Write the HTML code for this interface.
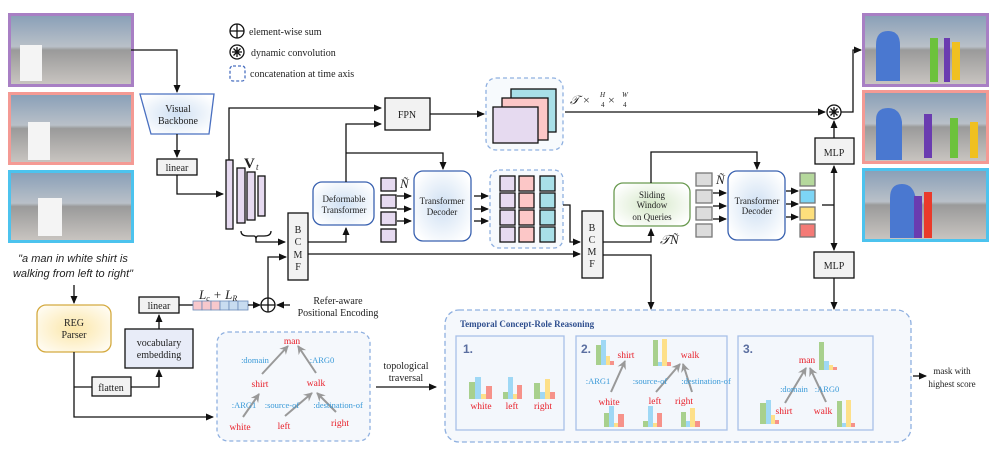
<!DOCTYPE html>
<html><head><meta charset="utf-8"><style>
body{margin:0;background:#fff}
svg{display:block}
text{font-family:"Liberation Serif",serif;fill:#222}
</style></head><body>
<svg width="997" height="455" viewBox="0 0 997 455" xmlns="http://www.w3.org/2000/svg">
<defs>
<marker id="a" markerWidth="8" markerHeight="8" refX="7" refY="4" orient="auto" markerUnits="userSpaceOnUse"><path d="M0,0.5 L8,4 L0,7.5z" fill="#111"/></marker>
<marker id="g" markerWidth="9" markerHeight="9" refX="8" refY="4.5" orient="auto" markerUnits="userSpaceOnUse"><path d="M0,0 L9,4.5 L0,9 L3,4.5z" fill="#999"/></marker>
<radialGradient id="bl" cx="50%" cy="50%" r="60%"><stop offset="0" stop-color="#cfe0f3"/><stop offset="1" stop-color="#fff"/></radialGradient>
<radialGradient id="gr" cx="50%" cy="50%" r="60%"><stop offset="0" stop-color="#d5e8c8"/><stop offset="1" stop-color="#fff"/></radialGradient>
<radialGradient id="ye" cx="50%" cy="50%" r="60%"><stop offset="0" stop-color="#fbe6a8"/><stop offset="1" stop-color="#fffbef"/></radialGradient>
<linearGradient id="ph" x1="0" y1="0" x2="0" y2="1"><stop offset="0" stop-color="#8aa0b8"/><stop offset="0.45" stop-color="#b9c0c8"/><stop offset="0.5" stop-color="#9a9a9a"/><stop offset="1" stop-color="#c8c4c0"/></linearGradient>
</defs>
<g stroke-width="1.3" fill="none" stroke="#111">
<rect x="8" y="13" width="126" height="74" fill="#a87fc4" stroke="none"/><rect x="11" y="16" width="120" height="68" fill="url(#ph)" stroke="none"/>
<rect x="8" y="92" width="126" height="73" fill="#f49a94" stroke="none"/><rect x="11" y="95" width="120" height="67" fill="url(#ph)" stroke="none"/>
<rect x="8" y="170" width="126" height="73" fill="#4cc3ee" stroke="none"/><rect x="11" y="173" width="120" height="67" fill="url(#ph)" stroke="none"/>
<rect x="20" y="45" width="22" height="36" fill="#f4f4f4" stroke="none"/><rect x="28" y="122" width="22" height="38" fill="#f4f4f4" stroke="none"/><rect x="38" y="198" width="24" height="38" fill="#f4f4f4" stroke="none"/>
<rect x="862" y="13" width="127" height="74" fill="#a87fc4" stroke="none"/><rect x="865" y="16" width="121" height="68" fill="url(#ph)" stroke="none"/>
<rect x="862" y="90" width="127" height="74" fill="#f49a94" stroke="none"/><rect x="865" y="93" width="121" height="68" fill="url(#ph)" stroke="none"/>
<rect x="862" y="168" width="127" height="74" fill="#4cc3ee" stroke="none"/><rect x="865" y="171" width="121" height="68" fill="url(#ph)" stroke="none"/>
<path d="M876,45 q0,-14 12,-14 q12,0 12,14 l0,36 l-24,0z" fill="#4a78d0" stroke="none"/>
<path d="M930,38 l8,0 l0,44 l-8,0z" fill="#6cc23c" stroke="none"/><path d="M944,38 l6,0 l0,44 l-6,0z" fill="#6a3cb0" stroke="none"/><path d="M952,42 l8,0 l0,38 l-8,0z" fill="#f0c020" stroke="none"/>
<path d="M876,120 q0,-12 12,-12 q12,0 14,14 l0,38 l-26,0z" fill="#4a78d0" stroke="none"/>
<path d="M924,114 l8,0 l0,44 l-8,0z" fill="#6a3cb0" stroke="none"/><path d="M950,118 l8,0 l0,40 l-8,0z" fill="#6cc23c" stroke="none"/><path d="M970,122 l8,0 l0,36 l-8,0z" fill="#f0c020" stroke="none"/>
<path d="M890,198 q0,-14 12,-14 q12,0 14,16 l0,38 l-26,0z" fill="#4a78d0" stroke="none"/>
<path d="M914,196 l8,0 l0,42 l-8,0z" fill="#6a3cb0" stroke="none"/><path d="M924,192 l8,0 l0,46 l-8,0z" fill="#ea3a2a" stroke="none"/>

<circle cx="237" cy="31" r="7"/><path d="M230,31h14M237,24v14"/>
<circle cx="237" cy="52" r="7"/><path d="M232,52h10M237,47v10M233.5,48.5l7,7M240.5,48.5l-7,7"/>
<rect x="230" y="66" width="15" height="15" rx="3" stroke="#4a70c0" stroke-dasharray="3,2"/>

<path d="M131,50 H177 V92" marker-end="url(#a)"/>
<path d="M140,94 H214 L209,134 H151Z" fill="url(#bl)" stroke="#4a70c0"/>
<path d="M177,134 V157" marker-end="url(#a)"/>
<rect x="157" y="159" width="40" height="16" fill="#f2f2f2"/>
<path d="M177,175 V194 H223" marker-end="url(#a)"/>
<rect x="226" y="160" width="7" height="69" fill="#e6daf0"/><rect x="237" y="168" width="8" height="55" fill="#e6daf0"/><rect x="247" y="172" width="8" height="48" fill="#e6daf0"/><rect x="258" y="176" width="7" height="40" fill="#e6daf0"/>
<path d="M229,160 V108 H381" marker-end="url(#a)"/>
<path d="M241,231 q0,5 7,5 h6 q2,0 2,4 q0,-4 2,-4 h6 q7,0 7,-5"/>
<path d="M256,240 V242 H285" marker-end="url(#a)"/>
<rect x="385" y="98" width="45" height="32" fill="#f2f2f2"/>
<rect x="288" y="213" width="20" height="67" fill="#f2f2f2"/>
<path d="M308,242 H346 V228" marker-end="url(#a)"/>
<rect x="313" y="182" width="61" height="43" rx="9" fill="url(#bl)" stroke="#3a62b0"/>
<path d="M346,182 V124 H381" marker-end="url(#a)"/>
<path d="M346,153 H443 V169" marker-end="url(#a)"/>
<rect x="381" y="178" width="15" height="13" fill="#e6daf0"/><rect x="381" y="195" width="15" height="13" fill="#e6daf0"/><rect x="381" y="212" width="15" height="13" fill="#e6daf0"/><rect x="381" y="229" width="15" height="13" fill="#e6daf0"/>
<path d="M397,196H411" marker-end="url(#a)"/><path d="M397,209H411" marker-end="url(#a)"/><path d="M397,221H411" marker-end="url(#a)"/>
<rect x="414" y="171" width="57" height="70" rx="9" fill="url(#bl)" stroke="#3a62b0"/>
<path d="M474,196H488" marker-end="url(#a)"/><path d="M474,209H488" marker-end="url(#a)"/><path d="M474,221H488" marker-end="url(#a)"/>
<rect x="490" y="170" width="73" height="78" rx="9" fill="#f7fafd" stroke="#8fb0e0" stroke-dasharray="4,3"/>
<g fill="#e6daf0"><rect x="500" y="176" width="15" height="15"/><rect x="500" y="193" width="15" height="15"/><rect x="500" y="210" width="15" height="15"/><rect x="500" y="227" width="15" height="15"/></g>
<g fill="#fcc7c7"><rect x="519" y="176" width="15" height="15"/><rect x="519" y="193" width="15" height="15"/><rect x="519" y="210" width="15" height="15"/><rect x="519" y="227" width="15" height="15"/></g>
<g fill="#a8dfe8"><rect x="540" y="176" width="15" height="15"/><rect x="540" y="193" width="15" height="15"/><rect x="540" y="210" width="15" height="15"/><rect x="540" y="227" width="15" height="15"/></g>
<path d="M563,205 H570 V242 H580" marker-end="url(#a)"/>
<path d="M308,254 H580" marker-end="url(#a)"/>
<path d="M430,114 H484" marker-end="url(#a)"/>
<rect x="486" y="78" width="77" height="72" rx="10" fill="#f7fafd" stroke="#8fb0e0" stroke-dasharray="4,3"/>
<rect x="511" y="89" width="45" height="43" fill="#a8dfe8"/><rect x="502" y="98" width="46" height="42" fill="#fcc7c7"/><rect x="493" y="107" width="45" height="36" fill="#e6daf0"/>
<path d="M565,112 H825" marker-end="url(#a)"/>
<circle cx="834" cy="112" r="7" fill="#fff"/><path d="M829,112h10M834,107v10M830.5,108.5l7,7M837.5,108.5l-7,7"/>
<path d="M841,112 H853 V50 H861" marker-end="url(#a)"/>
<rect x="582" y="211" width="21" height="67" fill="#f2f2f2"/>
<path d="M603,242 H651 V229" marker-end="url(#a)"/>
<rect x="614" y="183" width="76" height="43" rx="9" fill="url(#gr)" stroke="#6a9a50"/>
<path d="M651,183 V152 H757 V169" marker-end="url(#a)"/>
<path d="M603,255 H651 V309" marker-end="url(#a)"/>
<g fill="#dcdcdc" stroke="#777"><rect x="696" y="173" width="16" height="13"/><rect x="696" y="190" width="16" height="13"/><rect x="696" y="207" width="16" height="13"/><rect x="696" y="224" width="16" height="13"/></g>
<path d="M713,193H726" marker-end="url(#a)"/><path d="M713,206H726" marker-end="url(#a)"/><path d="M713,219H726" marker-end="url(#a)"/>
<rect x="728" y="171" width="57" height="69" rx="9" fill="url(#bl)" stroke="#3a62b0"/>
<path d="M786,191H798" marker-end="url(#a)"/><path d="M786,204H798" marker-end="url(#a)"/><path d="M786,217H798" marker-end="url(#a)"/>
<g stroke="#777"><rect x="800" y="173" width="15" height="13" fill="#b5d89c"/><rect x="800" y="190" width="15" height="13" fill="#7dd5f5"/><rect x="800" y="207" width="15" height="13" fill="#fddf7c"/><rect x="800" y="224" width="15" height="13" fill="#f47a76"/></g>
<path d="M822,205 H834"/><path d="M834,205 V166" marker-end="url(#a)"/><path d="M834,205 V250" marker-end="url(#a)"/>
<rect x="815" y="138" width="39" height="26" fill="#f2f2f2"/>
<path d="M834,138 V121" marker-end="url(#a)"/>
<rect x="814" y="252" width="40" height="26" fill="#f2f2f2"/>
<path d="M834,278 V309" marker-end="url(#a)"/>
<path d="M74,285 V303" marker-end="url(#a)"/>
<rect x="37" y="305" width="74" height="47" rx="9" fill="url(#ye)" stroke="#d4aa40"/>
<path d="M74,352 V417 H213" marker-end="url(#a)"/>
<path d="M74,387 H92"/>
<rect x="92" y="377" width="39" height="19" fill="#f2f2f2"/>
<path d="M131,387 H159 V370" marker-end="url(#a)"/>
<rect x="125" y="329" width="68" height="39" fill="#e8ecf8"/>
<path d="M159,329 V315" marker-end="url(#a)"/>
<rect x="139" y="297" width="40" height="16" fill="#f2f2f2"/>
<path d="M179,305 H193"/>
<g stroke="#6a8ab8" stroke-width="0.8"><rect x="193" y="301" width="9" height="9" fill="#f8c8cc"/><rect x="202" y="301" width="9" height="9" fill="#f8c8cc"/><rect x="211" y="301" width="9" height="9" fill="#f8c8cc"/><rect x="220" y="301" width="9" height="9" fill="#c8dcf0"/><rect x="229" y="301" width="9" height="9" fill="#c8dcf0"/><rect x="238" y="301" width="10" height="9" fill="#c8dcf0"/></g>
<path d="M248,305 H260" marker-end="url(#a)"/>
<circle cx="268" cy="305" r="7"/><path d="M261,305h14M268,298v14"/>
<path d="M290,305 H277" marker-end="url(#a)"/>
<path d="M268,298 V257 H286" marker-end="url(#a)"/>
<rect x="217" y="332" width="153" height="109" rx="11" fill="#f5f8fc" stroke="#8fb0e0" stroke-dasharray="4,3"/>
<path d="M376,387 H436" marker-end="url(#a)"/>
<rect x="445" y="310" width="466" height="132" rx="14" fill="#f5f8fc" stroke="#8fb0e0" stroke-dasharray="5,3"/>
<g fill="#f3f7fc" stroke="#a8c0e8"><rect x="456" y="336" width="108" height="94"/><rect x="576" y="336" width="151" height="94"/><rect x="738" y="336" width="135" height="94"/></g>
<path d="M913,376 H926" marker-end="url(#a)"/>
</g>
<g stroke="#999" stroke-width="2" marker-end="url(#g)">
<path d="M262,374 L288,346"/><path d="M316,373 L298,346"/><path d="M243,417 L259,394"/><path d="M285,416 L312,393"/><path d="M336,412 L317,393"/>
<path d="M611,392 L625,361"/><path d="M656,392 L680,364"/><path d="M692,392 L683,364"/>
<path d="M785,403 L806,368"/><path d="M826,402 L810,368"/>
</g>
<g stroke="none">
<rect x="469" y="382" width="6" height="17" fill="#a8d08d"/><rect x="475" y="377" width="6" height="22" fill="#9fd8f5"/><rect x="481" y="394" width="5" height="5" fill="#fde08a"/><rect x="486" y="386" width="6" height="13" fill="#f6928a"/>
<rect x="503" y="392" width="5" height="7" fill="#a8d08d"/><rect x="508" y="377" width="5" height="22" fill="#9fd8f5"/><rect x="513" y="394" width="4" height="5" fill="#fde08a"/><rect x="517" y="385" width="5" height="14" fill="#f6928a"/>
<rect x="534" y="383" width="6" height="16" fill="#a8d08d"/><rect x="540" y="392" width="5" height="7" fill="#9fd8f5"/><rect x="545" y="379" width="5" height="20" fill="#fde08a"/><rect x="550" y="392" width="5" height="7" fill="#f6928a"/>
<rect x="596" y="345" width="5" height="20" fill="#a8d08d"/><rect x="601" y="340" width="5" height="25" fill="#9fd8f5"/><rect x="606" y="356" width="4" height="9" fill="#fde08a"/><rect x="610" y="361" width="4" height="4" fill="#f6928a"/>
<rect x="653" y="340" width="5" height="26" fill="#a8d08d"/><rect x="658" y="362" width="4" height="4" fill="#9fd8f5"/><rect x="662" y="339" width="5" height="27" fill="#fde08a"/><rect x="667" y="362" width="4" height="4" fill="#f6928a"/>
<rect x="604" y="413" width="5" height="14" fill="#a8d08d"/><rect x="609" y="406" width="5" height="21" fill="#9fd8f5"/><rect x="614" y="423" width="4" height="4" fill="#fde08a"/><rect x="618" y="414" width="6" height="13" fill="#f6928a"/>
<rect x="643" y="421" width="5" height="6" fill="#a8d08d"/><rect x="648" y="406" width="5" height="21" fill="#9fd8f5"/><rect x="653" y="423" width="4" height="4" fill="#fde08a"/><rect x="657" y="413" width="5" height="14" fill="#f6928a"/>
<rect x="681" y="412" width="5" height="15" fill="#a8d08d"/><rect x="686" y="421" width="4" height="6" fill="#9fd8f5"/><rect x="690" y="408" width="5" height="19" fill="#fde08a"/><rect x="695" y="421" width="5" height="6" fill="#f6928a"/>
<rect x="819" y="342" width="5" height="28" fill="#a8d08d"/><rect x="824" y="361" width="5" height="9" fill="#9fd8f5"/><rect x="829" y="365" width="4" height="5" fill="#fde08a"/><rect x="833" y="367" width="4" height="3" fill="#f6928a"/>
<rect x="760" y="403" width="6" height="21" fill="#a8d08d"/><rect x="766" y="400" width="5" height="24" fill="#9fd8f5"/><rect x="771" y="415" width="4" height="9" fill="#fde08a"/><rect x="775" y="420" width="4" height="4" fill="#f6928a"/>
<rect x="837" y="401" width="5" height="26" fill="#a8d08d"/><rect x="842" y="423" width="4" height="4" fill="#9fd8f5"/><rect x="846" y="400" width="5" height="27" fill="#fde08a"/><rect x="851" y="423" width="4" height="4" fill="#f6928a"/>
</g>
<g font-size="10">
<text x="249" y="35">element-wise sum</text>
<text x="251" y="56">dynamic convolution</text>
<text x="250" y="77">concatenation at time axis</text>
</g>
<g font-size="10" text-anchor="middle">
<text x="178" y="112">Visual</text><text x="178" y="124">Backbone</text>
<text x="177" y="171">linear</text>
<text x="407" y="118">FPN</text>
<text x="344" y="202" font-size="9">Deformable</text><text x="344" y="213" font-size="9">Transformer</text>
<text x="442" y="204" font-size="9">Transformer</text><text x="442" y="215" font-size="9">Decoder</text>
<text x="298" y="233">B</text><text x="298" y="245">C</text><text x="298" y="258">M</text><text x="298" y="270">F</text>
<text x="592" y="231">B</text><text x="592" y="243">C</text><text x="592" y="255">M</text><text x="592" y="267">F</text>
<text x="652" y="198" font-size="9">Sliding</text><text x="652" y="208" font-size="9">Window</text><text x="652" y="220" font-size="9">on Queries</text>
<text x="757" y="204" font-size="9">Transformer</text><text x="757" y="214" font-size="9">Decoder</text>
<text x="834" y="156">MLP</text><text x="834" y="269">MLP</text>
<text x="74" y="326">REG</text><text x="74" y="338">Parser</text>
<text x="159" y="309">linear</text>
<text x="159" y="346">vocabulary</text><text x="159" y="358">embedding</text>
<text x="111" y="391">flatten</text>
<text x="338" y="304">Refer-aware</text><text x="338" y="316">Positional Encoding</text>
<text x="406" y="369">topological</text><text x="406" y="381">traversal</text>
<text x="952" y="374" font-size="9">mask with</text><text x="952" y="387" font-size="9">highest score</text>
</g>
<text x="244" y="168" font-size="15" font-weight="bold">V</text><text x="256" y="170" font-size="9" font-style="italic">t</text>
<text x="400" y="188" font-size="13" font-style="italic">Ñ</text>
<text x="716" y="184" font-size="13" font-style="italic">Ñ</text>
<text x="660" y="244" font-size="13" font-style="italic">𝒯Ñ</text>
<text x="570" y="104" font-size="12" font-style="italic">𝒯 × </text><text x="600" y="97" font-size="7" font-style="italic">H</text><text x="601" y="107" font-size="7">4</text><text x="608" y="104" font-size="12"> × </text><text x="622" y="97" font-size="7" font-style="italic">W</text><text x="623" y="107" font-size="7">4</text>
<text x="199" y="299" font-size="13" font-style="italic">L<tspan font-size="8" dy="2">c</tspan><tspan dy="-2"> + L</tspan><tspan font-size="8" dy="2">R</tspan></text>
<g font-style="italic" font-size="11" text-anchor="middle"><text x="73" y="262" style="font-family:'Liberation Sans',sans-serif">"a man in white shirt is</text><text x="73" y="277" style="font-family:'Liberation Sans',sans-serif">walking from left to right"</text></g>
<g font-size="9.5" text-anchor="middle">
<text x="292" y="344" style="fill:#e8202a">man</text><text x="260" y="387" style="fill:#e8202a">shirt</text><text x="316" y="386" style="fill:#e8202a">walk</text><text x="240" y="430" style="fill:#e8202a">white</text><text x="284" y="429" style="fill:#e8202a">left</text><text x="340" y="426" style="fill:#e8202a">right</text>
<text x="481" y="409" style="fill:#e8202a">white</text><text x="512" y="409" style="fill:#e8202a">left</text><text x="543" y="409" style="fill:#e8202a">right</text>
<text x="626" y="358" style="fill:#e8202a">shirt</text><text x="690" y="358" style="fill:#e8202a">walk</text><text x="609" y="405" style="fill:#e8202a">white</text><text x="655" y="404" style="fill:#e8202a">left</text><text x="684" y="404" style="fill:#e8202a">right</text>
<text x="807" y="363" style="fill:#e8202a">man</text><text x="784" y="414" style="fill:#e8202a">shirt</text><text x="823" y="414" style="fill:#e8202a">walk</text>
</g>
<g font-size="8.5" text-anchor="middle">
<text x="255" y="363" style="fill:#3a9ad8">:domain</text><text x="322" y="363" style="fill:#3a9ad8">:ARG0</text><text x="244" y="408" style="fill:#3a9ad8">:ARG1</text><text x="282" y="408" style="fill:#3a9ad8">:source-of</text><text x="338" y="408" style="fill:#3a9ad8">:destination-of</text>
<text x="598" y="384" style="fill:#3a9ad8">:ARG1</text><text x="650" y="384" style="fill:#3a9ad8">:source-of</text><text x="706" y="384" style="fill:#3a9ad8">:destination-of</text>
<text x="794" y="392" style="fill:#3a9ad8">:domain</text><text x="827" y="392" style="fill:#3a9ad8">:ARG0</text>
</g>
<text x="460" y="327" font-size="9" font-weight="bold" style="fill:#2f4f8f">Temporal Concept-Role Reasoning</text>
<g font-weight="bold" font-size="12"><text x="463" y="353" style="fill:#5a6ea0;font-family:'Liberation Sans',sans-serif">1.</text><text x="581" y="353" style="fill:#5a6ea0;font-family:'Liberation Sans',sans-serif">2.</text><text x="743" y="353" style="fill:#5a6ea0;font-family:'Liberation Sans',sans-serif">3.</text></g>
</svg>
</body></html>
